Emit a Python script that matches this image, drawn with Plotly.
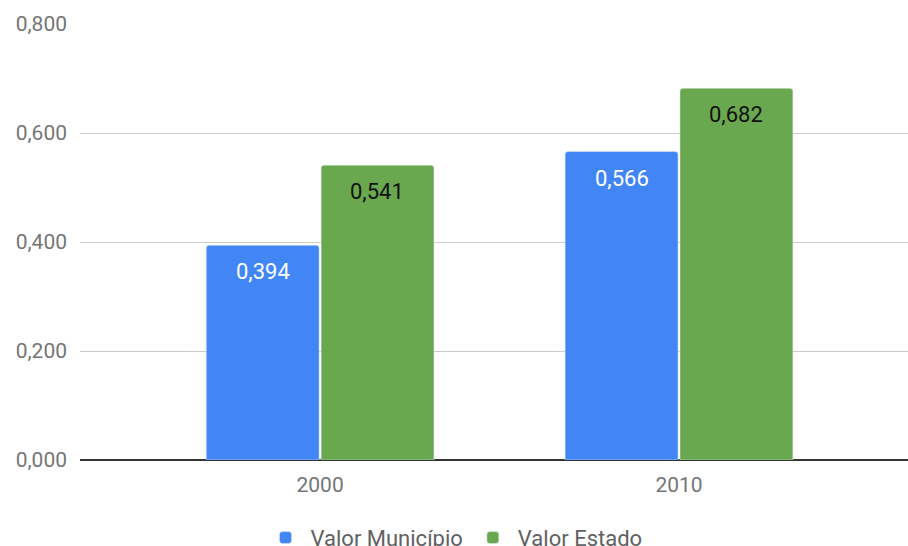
import plotly.graph_objects as go

categories = ["2000", "2010"]
municipio = [0.394, 0.566]
estado = [0.541, 0.682]
series_names = ["Valor Município", "Valor Estado"]
y_ticks = [0, 0.2, 0.4, 0.6, 0.8]

def fmt(v):
    return f"{v:.3f}".replace(".", ",")

fig = go.Figure()
fig.add_trace(go.Bar(
    x=categories, y=municipio, name=series_names[0],
    marker=dict(color="#4285F4", cornerradius=3),
))
fig.add_trace(go.Bar(
    x=categories, y=estado, name=series_names[1],
    marker=dict(color="#6AA84F", cornerradius=3),
))

# value labels just inside the top of each bar (x given as category index)
for vals, shift, col in [(municipio, -57, "white"), (estado, 57, "#111111")]:
    for i, v in enumerate(vals):
        fig.add_annotation(x=i, y=v, xref="x", yref="y", text=fmt(v),
                           showarrow=False, xshift=shift, yshift=-12,
                           yanchor="top",
                           font=dict(color=col, size=22, family="Roboto"))

fig.update_layout(
    width=908, height=546,
    margin=dict(l=80, r=0, t=24, b=86, autoexpand=False),
    paper_bgcolor="white", plot_bgcolor="white",
    font=dict(family="Roboto", size=21, color="#757575"),
    separators=",.",
    barmode="group", bargap=0.36, bargroupgap=0.017,
    showlegend=True,
    legend=dict(orientation="h", xref="container", x=0.5, xanchor="center",
                yref="container", y=0.015, yanchor="middle",
                font=dict(size=22, color="#616161"), itemwidth=40),
    xaxis=dict(type="category", range=[-0.669, 1.638], showgrid=False,
               showline=False, ticks="", automargin=False, ticklabelstandoff=10,
               tickfont=dict(size=21, color="#757575")),
    yaxis=dict(range=[0, 0.8], tickvals=y_ticks, tickformat=".3f",
               showgrid=True, gridcolor="#CCCCCC", gridwidth=1,
               zeroline=True, zerolinecolor="#333333", zerolinewidth=2,
               showline=False, ticks="", ticklabelstandoff=12, automargin=False,
               tickfont=dict(size=21, color="#757575")),
)

fig.write_html("out.html", config={"displayModeBar": False},
               post_script="document.body.style.margin='0';document.body.style.padding='0';")
